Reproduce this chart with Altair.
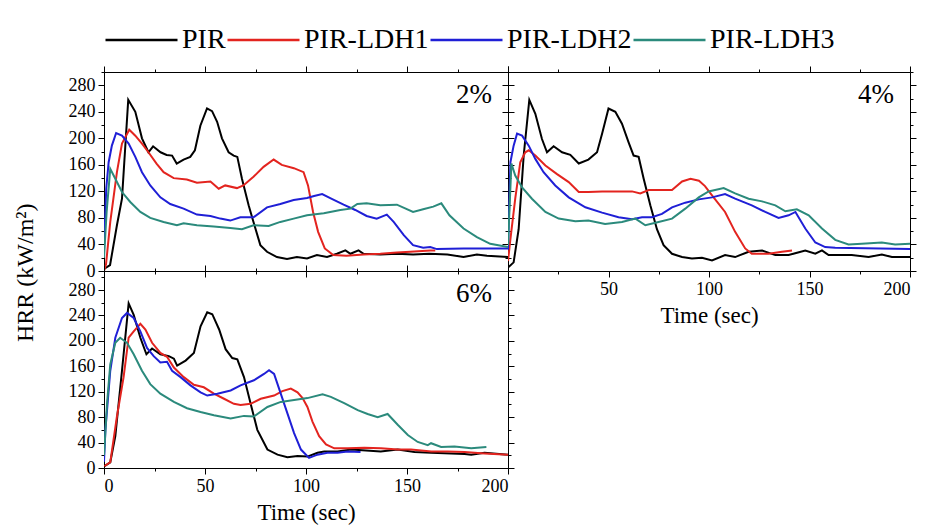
import altair as alt
import pandas as pd

SERIF = "Liberation Serif, Times New Roman, serif"
SERIES = ["PIR", "PIR-LDH1", "PIR-LDH2", "PIR-LDH3"]
COLORS = ["#000000", "#e3241f", "#1f1fd6", "#2b8a7c"]
PANEL_LABELS = ["2%", "4%", "6%"]
X_MAJOR = [0, 50, 100, 150, 200]
X_MINOR = [25, 75, 125, 175]
Y_MAJOR = [0, 40, 80, 120, 160, 200, 240, 280]
Y_MINOR = [20, 60, 100, 140, 180, 220, 260, 300]

# ---------- 2 % ----------
p2_pir_t = [0, 3, 6.4, 8.9, 12, 15.5, 18.8, 22, 24.3, 28, 31, 33.7, 36, 39.4, 42.7, 45, 47.7, 51, 53.5, 56, 58.4, 61.7, 64.2, 66, 68.3, 71.6, 74, 77.4, 80.7, 85.6, 90.6, 95.5, 100.5, 105.4, 110.4, 115.3, 119.5, 122, 126, 128.5, 136.8, 145, 153, 161, 170, 178, 184.6, 189.6, 200]
p2_pir_v = [3, 9, 69, 109, 258, 240, 200, 179, 188, 179, 175, 174, 162, 168, 172, 182, 219, 245, 241, 225, 200, 179, 174, 172, 139, 99, 74, 39, 29, 21, 18, 21, 19, 24, 21, 26, 31, 26, 31, 26, 25, 26, 25, 26, 25, 21, 25, 23, 21]
p2_l1_t = [0, 1, 3.1, 6.4, 8.9, 12.5, 15.5, 18.8, 22, 26, 29.5, 34.5, 41, 46, 52.7, 56.8, 60, 65.8, 69, 74, 79, 84, 88, 94, 98.8, 101, 103.5, 106, 109.3, 113.5, 120, 128.5, 136.8, 145, 151.6, 161.5, 164]
p2_l1_v = [0, 10, 74, 149, 192, 213, 204, 192, 179, 162, 149, 140, 138, 133, 135, 124, 129, 125, 129, 142, 157, 168, 160, 155, 149, 129, 89, 59, 34, 24, 23, 25, 26, 28, 29, 31, 31]
p2_l2_t = [0, 1.1, 2.3, 3.9, 6, 8.9, 12.2, 15.5, 18.8, 22.9, 27.9, 32.8, 39.4, 46, 52.7, 57.6, 62.5, 67.5, 74, 80.7, 87.3, 93.9, 100.5, 104, 108, 112, 118.6, 124.4, 130, 135, 140, 143.4, 148.4, 153, 158, 161.5, 164.8, 178, 200]
p2_l2_v = [30, 124, 164, 189, 208, 204, 192, 172, 149, 129, 111, 101, 94, 85, 83, 79, 76, 81, 81, 96, 101, 107, 110, 113, 116, 110, 100, 92, 83, 79, 85, 74, 54, 39, 35, 36, 33, 34, 34]
p2_l3_t = [0, 1.3, 3.1, 5.6, 8.9, 13, 18, 22.9, 29.5, 36.1, 39.4, 46, 54.3, 62.5, 68.3, 74, 81.5, 87.3, 93.9, 100.5, 108.8, 117, 122, 125.4, 130, 136.8, 145, 153, 158, 163, 167, 171, 178, 184.6, 191.2, 200]
p2_l3_v = [20, 89, 154, 139, 119, 104, 89, 80, 74, 69, 72, 69, 67, 65, 63, 69, 68, 74, 79, 84, 87, 92, 94, 101, 102, 99, 100, 89, 93, 97, 102, 84, 64, 51, 41, 36]

# ---------- 4 % ----------
p4_pir_t = [0.3, 2.8, 5.3, 7.8, 10.6, 13.6, 16.9, 19.4, 22.7, 26.9, 31, 35.2, 40, 44.3, 46.8, 50, 53.4, 56.7, 60, 62.5, 65, 67.5, 70.8, 74.1, 77.4, 81.6, 86.6, 91.5, 96.5, 101.5, 108, 113, 119.7, 126.4, 133, 139.6, 147.9, 152.9, 156.2, 159.5, 171, 179.4, 186, 191, 200]
p4_pir_v = [6, 13, 63, 174, 258, 237, 199, 179, 188, 179, 175, 162, 168, 179, 207, 245, 240, 222, 194, 174, 172, 139, 99, 63, 39, 26, 21, 19, 20, 16, 24, 21, 29, 31, 24, 24, 31, 26, 31, 24, 24, 21, 25, 21, 21]
p4_l1_t = [0, 1.2, 3.6, 6.1, 8.6, 10.3, 13.6, 18.6, 24.4, 30.2, 35.2, 40, 46.8, 55, 61.7, 65.8, 70, 81.6, 86.6, 90.8, 95, 98, 101.5, 108, 113, 118, 121.3, 129.6, 136.3, 141.3]
p4_l1_v = [15, 48, 109, 164, 179, 182, 174, 159, 146, 134, 119, 119, 120, 120, 120, 117, 122, 122, 135, 139, 136, 128, 114, 89, 59, 34, 26, 26, 29, 31]
p4_l2_t = [0, 1.2, 2.8, 4.5, 7, 10.3, 13.6, 17.7, 23.5, 30.2, 38.5, 46.8, 55, 61.7, 66.7, 71.6, 76.6, 81.6, 88.2, 94.9, 101.5, 108, 113, 121.3, 128, 134.6, 139.6, 143, 147.9, 152.9, 157.8, 162.8, 200]
p4_l2_v = [32, 164, 189, 207, 204, 189, 169, 149, 129, 111, 96, 88, 81, 78, 81, 81, 86, 96, 103, 108, 111, 116, 109, 99, 89, 80, 84, 89, 64, 43, 36, 35, 33]
p4_l3_t = [0, 1.7, 3.6, 7, 11.9, 18.6, 25.2, 33.5, 40, 48.3, 56.7, 63.4, 68.3, 74.9, 81.6, 88.2, 94.9, 99.8, 107.3, 113, 119.7, 126.4, 133, 138, 143.7, 149.6, 156.2, 162.8, 169.4, 176, 186, 192.6, 200]
p4_l3_v = [39, 162, 144, 126, 109, 89, 79, 75, 76, 71, 74, 79, 69, 74, 79, 94, 111, 120, 125, 117, 109, 105, 99, 90, 93, 84, 64, 47, 40, 41, 43, 40, 41]

# ---------- 6 % ----------
p6_pir_t = [0.2, 3.1, 5.6, 8.9, 12.2, 14.7, 18, 21, 23.8, 27.9, 32.1, 34.6, 36.2, 40.4, 44.5, 47.8, 51.1, 53.6, 57, 60.2, 63.5, 66, 69.3, 72.6, 75.9, 80.9, 85.9, 90.8, 95.8, 100.7, 105.7, 109, 115.6, 122.4, 137, 145.4, 153.7, 161.9, 178.5, 181.8, 188.4, 200]
p6_pir_v = [3, 9, 50, 153, 259, 241, 205, 179, 188, 179, 176, 172, 161, 169, 181, 223, 245, 242, 218, 187, 173, 171, 143, 101, 60, 29, 21, 17, 19, 18, 24, 26, 26, 29, 26, 29, 25, 24, 22, 21, 24, 21]
p6_l1_t = [0.2, 3.1, 6.4, 9.7, 12.2, 14.7, 18, 20.5, 23.8, 27.9, 31.2, 34.6, 39.5, 44.5, 49.4, 54.4, 59.4, 64.3, 67.6, 72.6, 77.6, 84.2, 88.3, 92.5, 95.8, 98.3, 100.7, 103.2, 106.5, 109.9, 114, 120.6, 128.9, 137.1, 145.4, 152, 162, 170.2, 178.5, 188.4, 200]
p6_l1_v = [3, 9, 81, 143, 205, 215, 227, 218, 197, 181, 175, 158, 143, 131, 127, 117, 109, 101, 99, 101, 109, 114, 121, 125, 119, 110, 96, 73, 50, 37, 31, 31, 32, 31, 29, 29, 26, 26, 25, 23, 21]
p6_l2_t = [0, 0.7, 3.1, 5.6, 8.9, 11.4, 14.7, 18, 21.3, 24.6, 27.9, 31.2, 33.7, 37.9, 42.8, 47.8, 51.1, 56.1, 62.7, 67.6, 74.2, 79.2, 81.7, 84.2, 87.5, 90.8, 94.1, 97.5, 101.5, 105.7, 110.6, 115.6, 120.6, 127]
p6_l2_v = [10, 60, 153, 205, 236, 244, 236, 215, 189, 176, 166, 167, 153, 143, 130, 119, 114, 117, 122, 130, 138, 148, 154, 148, 117, 86, 55, 29, 16, 21, 24, 24, 26, 25]
p6_l3_t = [0, 1.5, 3.1, 5.6, 8, 11.4, 14.7, 18.8, 22.9, 27.9, 34.6, 41.1, 47.8, 54.4, 62.7, 69.3, 74.2, 80.9, 87.5, 94.1, 100.7, 108.2, 112.3, 118.9, 125.6, 130.5, 135.5, 140.4, 145.4, 150.4, 155.3, 160.3, 161.9, 166.9, 173.5, 181.8, 189.3]
p6_l3_v = [20, 101, 163, 197, 205, 197, 179, 153, 132, 117, 104, 94, 88, 83, 78, 82, 81, 96, 104, 107, 110, 116, 112, 102, 91, 85, 80, 85, 68, 52, 41, 36, 39, 33, 34, 31, 33]


def make_df(pairs):
    rows = []
    for name, (ts, vs) in zip(SERIES, pairs):
        for t, v in zip(ts, vs):
            rows.append({"series": name, "t": t, "v": v})
    return pd.DataFrame(rows)


XS = alt.Scale(domain=[0, 200], nice=False, zero=False)


def tick_layer(base, ys, ox, oy, xv, yv, size):
    return base.mark_point(opacity=0).encode(
        x=alt.X("t:Q", scale=XS, axis=alt.Axis(orient=ox, values=xv, labels=False, title=None,
                                                tickSize=size, domain=False, grid=False)),
        y=alt.Y("v:Q", scale=ys, axis=alt.Axis(orient=oy, values=yv, labels=False, title=None,
                                                tickSize=size, domain=False, grid=False)),
    )


def panel(df, label, w, h, ymax, xlab, ylab, xtitle, hide_zero=False):
    base = alt.Chart(df)
    ys = alt.Scale(domain=[0, ymax], nice=False)
    xaxis = dict(orient="bottom", values=X_MAJOR, labels=xlab, tickSize=6, grid=False,
                 labelPadding=3, titlePadding=6, labelFont=SERIF, labelFontSize=18,
                 titleFont=SERIF, titleFontSize=23, titleFontWeight="normal")
    xaxis["title"] = xtitle if xtitle else None
    if hide_zero:
        xaxis["labelExpr"] = "datum.value == 0 ? '' : datum.label"
    lines = base.mark_line(strokeWidth=2, clip=True).encode(
        x=alt.X("t:Q", scale=XS, axis=alt.Axis(**xaxis)),
        y=alt.Y("v:Q", scale=ys, axis=alt.Axis(orient="left", values=Y_MAJOR, labels=ylab,
                                                title=None, tickSize=6, grid=False, labelPadding=3,
                                                labelFont=SERIF, labelFontSize=18)),
        color=alt.Color("series:N", scale=alt.Scale(domain=SERIES, range=COLORS), sort=SERIES,
                        legend=alt.Legend(orient="top", direction="horizontal", title=None,
                                          symbolType="stroke", symbolSize=5184,
                                          symbolStrokeWidth=2.5, labelFont=SERIF,
                                          labelFontSize=28, labelColor="#000000",
                                          columnPadding=0, labelOffset=3, offset=11,
                                          clipHeight=26)),
    )
    txt = alt.Chart(pd.DataFrame({"lab": [label]})).mark_text(
        font=SERIF, fontSize=27, align="right", baseline="middle", color="#000000"
    ).encode(x=alt.value(w - 16), y=alt.value(23), text="lab:N")
    layers = alt.layer(
        lines,
        tick_layer(base, ys, "bottom", "left", X_MINOR, Y_MINOR, 3),
        tick_layer(base, ys, "top", "right", X_MAJOR, Y_MAJOR, 6),
        tick_layer(base, ys, "top", "right", X_MINOR, Y_MINOR, 3),
        txt,
    ).resolve_axis(x="independent", y="independent").properties(width=w, height=h)
    return layers


df2 = make_df([(p2_pir_t, p2_pir_v), (p2_l1_t, p2_l1_v), (p2_l2_t, p2_l2_v), (p2_l3_t, p2_l3_v)])
df4 = make_df([(p4_pir_t, p4_pir_v), (p4_l1_t, p4_l1_v), (p4_l2_t, p4_l2_v), (p4_l3_t, p4_l3_v)])
df6 = make_df([(p6_pir_t, p6_pir_v), (p6_l1_t, p6_l1_v), (p6_l2_t, p6_l2_v), (p6_l3_t, p6_l3_v)])

c1 = panel(df2, PANEL_LABELS[0], 404, 199, 300, False, True, None)
c2 = panel(df4, PANEL_LABELS[1], 402, 199, 300, True, False, "Time (sec)", hide_zero=True)
c3 = panel(df6, PANEL_LABELS[2], 404, 197, 310, True, True, "Time (sec)")

chart = alt.concat(c1, c2, c3, columns=2, spacing=0, bounds="flush").properties(
    title=alt.TitleParams("HRR (kW/m²)", orient="left", anchor="middle", font=SERIF,
                          fontSize=24, fontWeight="normal", color="#000000", offset=30, dx=3),
    padding={"top": 19, "left": 5, "right": 5, "bottom": 0},
).configure(font=SERIF).configure_axis(
    labelFont=SERIF, labelFontSize=18, labelColor="#000000", tickColor="#000000",
    domainColor="#000000", titleFont=SERIF, titleFontSize=23, titleColor="#000000",
    titleFontWeight="normal",
).configure_legend(labelFont=SERIF).configure_view(stroke="#000000", strokeWidth=1)

chart.save("out.html", embed_options={"renderer": "svg", "actions": False})
